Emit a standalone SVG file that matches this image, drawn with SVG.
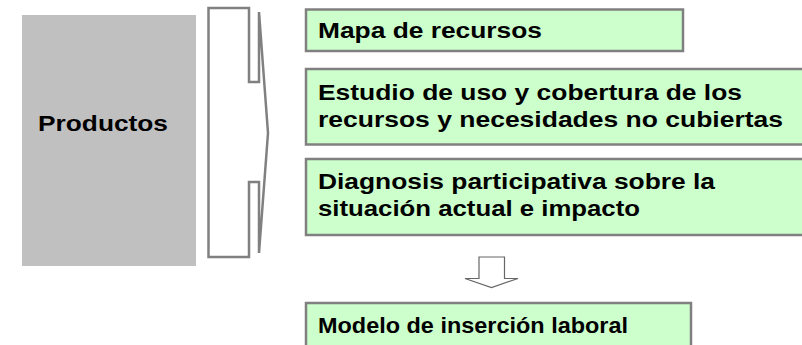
<svg xmlns="http://www.w3.org/2000/svg" width="802" height="345" viewBox="0 0 802 345">
<style>
.t{font-family:"Liberation Sans",Arial,sans-serif;font-weight:bold;font-size:22.5px;fill:#000}
.box{fill:#ccffcc;stroke:#808080;stroke-width:2.5}
.ln{fill:#fff;stroke:#808080;stroke-width:2.5;stroke-linejoin:miter}
</style>
<rect width="802" height="345" fill="#fff"/>
<g id="productos">
<rect x="22" y="15" width="174" height="251" fill="#c0c0c0"/>
<text class="t" x="38" y="131" textLength="130" lengthAdjust="spacingAndGlyphs">Productos</text>
</g>
<g id="connectors">
<path class="ln" d="M259,12 L268,133 L259,253 V182 H249 V257 H208.5 V8 H249 V82 H259 Z"/>
<path d="M479,257 H504.5 V278.5 H518 L491.5,287.5 L465,278.5 H479 Z" fill="#fff" stroke="#666" stroke-width="1.2"/>
</g>
<g id="mapa">
<rect class="box" x="306" y="9.5" width="377" height="41.5"/>
<text class="t" x="318" y="38" textLength="224" lengthAdjust="spacingAndGlyphs">Mapa de recursos</text>
</g>
<g id="estudio">
<rect class="box" x="306" y="69" width="500" height="75.5"/>
<text class="t" x="318" y="99.5" textLength="424" lengthAdjust="spacingAndGlyphs">Estudio de uso y cobertura de los</text>
<text class="t" x="318" y="126.5" textLength="465" lengthAdjust="spacingAndGlyphs">recursos y necesidades no cubiertas</text>
</g>
<g id="diagnosis">
<rect class="box" x="306" y="159" width="500" height="76"/>
<text class="t" x="318" y="189" textLength="397" lengthAdjust="spacingAndGlyphs">Diagnosis participativa sobre la</text>
<text class="t" x="318" y="216" textLength="322" lengthAdjust="spacingAndGlyphs">situación actual e impacto</text>
</g>
<g id="modelo">
<rect class="box" x="306" y="303" width="385" height="60"/>
<text class="t" x="318" y="333" textLength="310" lengthAdjust="spacingAndGlyphs">Modelo de inserción laboral</text>
</g>
</svg>
